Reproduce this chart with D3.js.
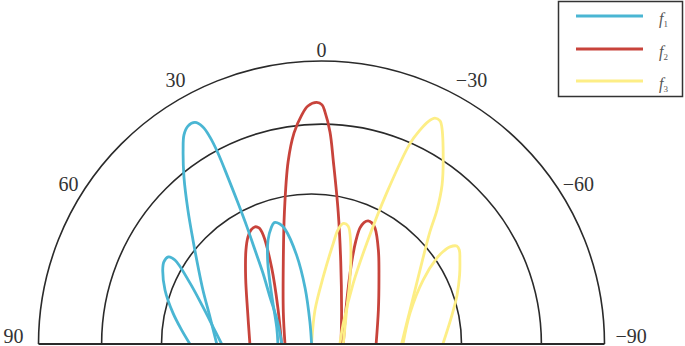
<!DOCTYPE html>
<html>
<head>
<meta charset="utf-8">
<script src="https://cdn.jsdelivr.net/npm/d3@7"></script>
<style>
  html, body { margin: 0; padding: 0; background: #fff; }
  svg { display: block; }
  .tick { font-family: "Liberation Serif", "Times New Roman", serif; }
</style>
</head>
<body>
<svg id="chart" width="685" height="346"></svg>
<script>
// ---- data (unit: outer ring radius = 1; u = horizontal, v = height above baseline) ----
const angleTicks = [90, 60, 30, 0, -30, -60, -90];
const ringValues = [0.53, 0.777, 1.0];
const seriesNames = ["f1", "f2", "f3"];
const seriesColors = ["#4ab6d3", "#c8433b", "#fdee86"];

const f1Lobes = [
  [[-0.465,0],[-0.494,0.049],[-0.525,0.110],[-0.553,0.191],[-0.561,0.261],[-0.557,0.290],[-0.541,0.308],[-0.518,0.297],[-0.465,0.216],[-0.419,0.131],[-0.383,0.060],[-0.353,0]],
  [[-0.370,0],[-0.394,0.095],[-0.419,0.191],[-0.436,0.272],[-0.454,0.367],[-0.472,0.473],[-0.486,0.590],[-0.489,0.686],[-0.486,0.739],[-0.472,0.770],[-0.447,0.783],[-0.419,0.767],[-0.394,0.731],[-0.366,0.675],[-0.330,0.587],[-0.295,0.498],[-0.263,0.413],[-0.235,0.332],[-0.207,0.251],[-0.182,0.166],[-0.157,0.085],[-0.140,0]],
  [[-0.154,0],[-0.158,0.057],[-0.176,0.173],[-0.190,0.290],[-0.189,0.367],[-0.178,0.410],[-0.167,0.429],[-0.147,0.424],[-0.129,0.406],[-0.088,0.314],[-0.058,0.198],[-0.041,0.078],[-0.035,0]]
];
const f2Lobes = [
  [[-0.253,0],[-0.261,0.114],[-0.268,0.233],[-0.267,0.332],[-0.260,0.378],[-0.249,0.403],[-0.235,0.414],[-0.221,0.410],[-0.206,0.385],[-0.176,0.269],[-0.154,0.127],[-0.141,0]],
  [[-0.129,0],[-0.135,0.114],[-0.135,0.291],[-0.131,0.467],[-0.118,0.644],[-0.097,0.746],[-0.070,0.809],[-0.048,0.841],[-0.017,0.854],[0.002,0.845],[0.012,0.821],[0.030,0.749],[0.042,0.644],[0.059,0.467],[0.068,0.291],[0.071,0.114],[0.069,0]],
  [[0.077,0],[0.089,0.149],[0.107,0.291],[0.122,0.367],[0.136,0.410],[0.150,0.429],[0.165,0.435],[0.178,0.428],[0.189,0.410],[0.201,0.332],[0.203,0.226],[0.201,0.120],[0.193,0]]
];
const f3Lobes = [
  [[-0.035,0],[-0.023,0.120],[0.006,0.237],[0.042,0.357],[0.058,0.403],[0.077,0.426],[0.094,0.417],[0.103,0.357],[0.101,0.237],[0.089,0.120],[0.077,0]],
  [[0.065,0],[0.077,0.073],[0.112,0.214],[0.160,0.356],[0.230,0.533],[0.313,0.709],[0.348,0.756],[0.377,0.786],[0.401,0.798],[0.419,0.788],[0.425,0.768],[0.430,0.650],[0.426,0.562],[0.408,0.473],[0.383,0.396],[0.357,0.297],[0.326,0.173],[0.304,0.085],[0.283,0]],
  [[0.288,0],[0.313,0.110],[0.359,0.226],[0.408,0.304],[0.429,0.326],[0.454,0.343],[0.478,0.346],[0.487,0.332],[0.489,0.297],[0.488,0.244],[0.479,0.173],[0.461,0.102],[0.429,0]]
];
const allSeries = [f1Lobes, f2Lobes, f3Lobes];

// ---- layout ----
const cx = 321.5, by = 344, R = 283;
const svg = d3.select("#chart");
const x = d3.scaleLinear().domain([-1, 1]).range([cx - R, cx + R]);
const y = d3.scaleLinear().domain([0, 1]).range([by, by - R]);
const r = d3.scaleLinear().domain([0, 1]).range([0, R]);

// rings
const gridColor = "#2a2a2a";
ringValues.forEach((rv, i) => {
  const shift = i === 0 ? -10 : 0;
  const p = d3.path();
  p.arc(cx + shift, by, r(rv), Math.PI, 2 * Math.PI, false);
  svg.append("path").attr("d", p.toString())
    .attr("fill", "none").attr("stroke", gridColor).attr("stroke-width", 1.6);
});

// lobes
svg.append("clipPath").attr("id", "clipTop").append("rect")
  .attr("x", 0).attr("y", 0).attr("width", 685).attr("height", by);
const line = d3.line().x(d => x(d[0])).y(d => y(d[1])).curve(d3.curveCatmullRom.alpha(0.5));
const lobeG = svg.append("g").attr("clip-path", "url(#clipTop)");
[1, 2, 0].forEach(si => {
  allSeries[si].forEach(lobe => {
    lobeG.append("path").attr("d", line(lobe))
      .attr("fill", "none").attr("stroke", seriesColors[si])
      .attr("stroke-width", 2.8).attr("stroke-linejoin", "round");
  });
});

// baseline
svg.append("line").attr("x1", x(-1)).attr("x2", x(1)).attr("y1", by).attr("y2", by)
  .attr("stroke", gridColor).attr("stroke-width", 1.8);

// angle labels
const fmt = a => (a < 0 ? "\u2212" + Math.abs(a) : String(a));
angleTicks.forEach(a => {
  const rad = a * Math.PI / 180;
  const t = svg.append("text").attr("class", "tick").text(fmt(a))
    .attr("font-size", 20).attr("fill", "#333");
  if (Math.abs(a) === 90) {
    t.attr("text-anchor", a > 0 ? "end" : "start")
     .attr("x", a > 0 ? cx - R - 15 : cx + R + 11)
     .attr("y", by - 1);
  } else {
    const px = cx - (R + 9) * Math.sin(rad) + (a < 0 ? 4 : 0);
    const py = by - R * Math.cos(rad) - (a === 0 ? 11 : 19);
    t.attr("text-anchor", "middle").attr("dominant-baseline", "central")
     .attr("x", px).attr("y", py);
  }
});

// legend
const lg = svg.append("g");
lg.append("rect").attr("x", 558.5).attr("y", 1.5).attr("width", 124).attr("height", 95)
  .attr("fill", "#fff").attr("stroke", "#333").attr("stroke-width", 1.5);
const legendY = [16, 49, 81];
seriesNames.forEach((name, i) => {
  lg.append("line").attr("x1", 576).attr("x2", 643).attr("y1", legendY[i]).attr("y2", legendY[i])
    .attr("stroke", seriesColors[i]).attr("stroke-width", 3);
  const t = lg.append("text").attr("class", "tick").attr("x", 659).attr("y", legendY[i] + 8)
    .attr("font-size", 16).attr("fill", "#555");
  t.append("tspan").attr("font-style", "italic").text(name.charAt(0));
  t.append("tspan").attr("font-size", 9).attr("dy", 3).text(name.slice(1));
});
</script>
</body>
</html>
